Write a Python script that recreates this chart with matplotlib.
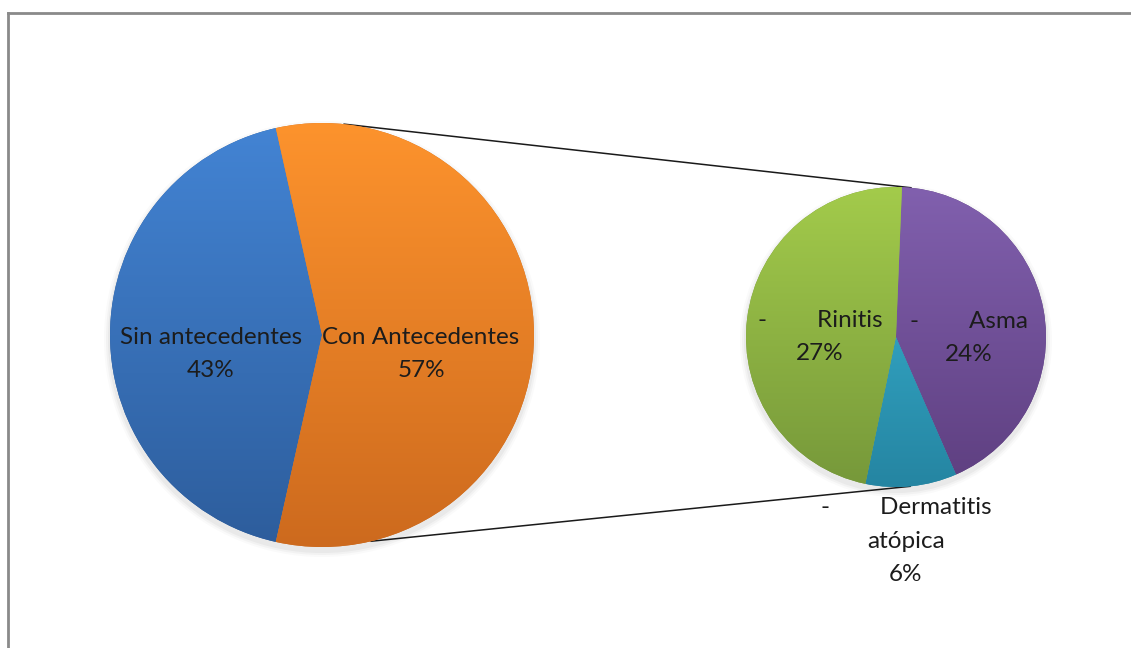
import numpy as np
import matplotlib.pyplot as plt
from matplotlib.colors import LinearSegmentedColormap

# ---- data ----
main_labels = ['Sin antecedentes', 'Con Antecedentes']
main_values = [43, 57]
sub_labels = ['-        Asma', '-        Dermatitis\natópica', '-        Rinitis']
sub_values = [24.4, 5.6, 27.0]

# gradient colours (top, bottom) per slice
main_colors = [('#4384d4', '#2d5d9c'), ('#fd932d', '#cd6a1e')]
sub_colors = [('#8160ae', '#5e3f80'), ('#3bb8d7', '#2585a2'), ('#a3cb4b', '#76983a')]

W, H = 1131, 648
fig = plt.figure(figsize=(W / 100, H / 100), dpi=100)
ax = fig.add_axes([0, 0, 1, 1])
plt.rcParams['font.family'] = ['Lato', 'DejaVu Sans']

# pie geometry (pixel space, y up)
c1, r1 = (322, H - 335), 212
c2, r2 = (896, H - 337), 150


def draw_shadow(center, r):
    for k, a in [(6, 0.04), (4, 0.06), (2, 0.08)]:
        ax.add_patch(plt.Circle((center[0], center[1] - 4), r + k, color='#808080',
                                alpha=a, lw=0, zorder=1))


def gradient_pie(values, center, r, colors, start, zorder=2):
    wedges, _ = ax.pie(values, center=center, radius=r, startangle=start,
                       counterclock=False, wedgeprops=dict(lw=0), frame=True)
    grad = np.linspace(0, 1, 256).reshape(-1, 1)
    for w, (top, bot) in zip(wedges, colors):
        w.set_zorder(zorder)
        w.set_facecolor(bot)
        cmap = LinearSegmentedColormap.from_list('g', [top, bot])
        im = ax.imshow(grad, cmap=cmap, aspect='auto', origin='upper',
                       extent=(center[0] - r, center[0] + r, center[1] - r, center[1] + r),
                       zorder=zorder + 0.5, interpolation='bilinear')
        im.set_clip_path(w)
    return wedges


draw_shadow(c1, r1)
draw_shadow(c2, r2)

# blue slice centred on the left, orange on the right
start1 = 180 + main_values[0] * 3.6 / 2
gradient_pie(main_values, c1, r1, main_colors, start1)
gradient_pie(sub_values, c2, r2, sub_colors, 87.7)

# connector lines between the pies
for a1, a2 in [(84, 84.3), (-76.6, -84.6)]:
    p1 = (c1[0] + r1 * np.cos(np.radians(a1)), c1[1] + r1 * np.sin(np.radians(a1)))
    p2 = (c2[0] + r2 * np.cos(np.radians(a2)), c2[1] + r2 * np.sin(np.radians(a2)))
    ax.plot([p1[0], p2[0]], [p1[1], p2[1]], color='#1a1a1a', lw=1.1, zorder=1.5)

# labels
txt = dict(ha='center', va='center', fontsize=17.5, color='#1c1c1c',
           linespacing=1.75, zorder=10)
main_pos = [(211, 354), (421, 354)]
for lab, v, (x, y) in zip(main_labels, main_values, main_pos):
    ax.text(x, H - y, f'{lab}\n{v:.0f}%', **txt)
sub_pos = [(969, 338), (906, 541), (820, 337)]
for lab, v, (x, y) in zip(sub_labels, sub_values, sub_pos):
    ax.text(x, H - y, f'{lab}\n{v:.0f}%', **txt)

# frame around the chart
ax.plot([8, W], [H - 13, H - 13], color='#8a8a8a', lw=2, zorder=20)
ax.plot([8, 8], [H - 13, 0], color='#8a8a8a', lw=2, zorder=20)

ax.set_xlim(0, W)
ax.set_ylim(0, H)
ax.set_aspect('equal')
ax.axis('off')

fig.savefig('out.png', dpi=100)
